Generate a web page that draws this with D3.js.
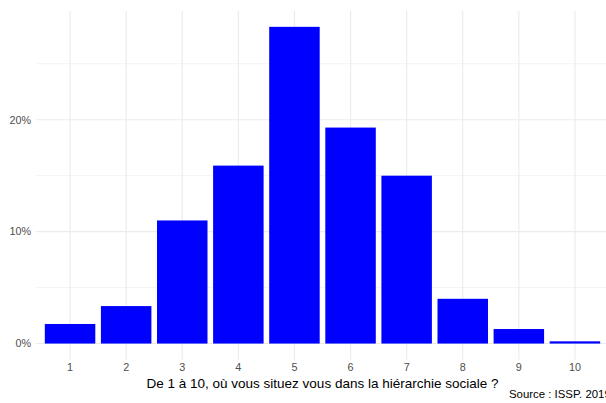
<!DOCTYPE html>
<html>
<head>
<meta charset="utf-8">
<script src="https://cdn.jsdelivr.net/npm/d3@7"></script>
<style>
  body { margin: 0; background: #fff; overflow: hidden; }
  text { font-family: "Liberation Sans", Arial, Helvetica, sans-serif; }
</style>
</head>
<body>
<div id="chart"></div>
<script>
// data
var categories = ["1", "2", "3", "4", "5", "6", "7", "8", "9", "10"];
var shares = [1.75, 3.35, 11.0, 15.9, 28.3, 19.3, 15.0, 4.0, 1.3, 0.2];
var yTicks = [0, 10, 20];
var yMinor = [5, 15, 25];
var xTitle = "De 1 à 10, où vous situez vous dans la hiérarchie sociale ?";
var caption = "Source : ISSP. 2019";

var width = 606, height = 403;
var panel = { left: 36.4, right: 608.6, top: 11, bottom: 359.4 };

var svg = d3.select("#chart").append("svg")
  .attr("width", width)
  .attr("height", height);

var x = d3.scaleBand()
  .domain(categories)
  .range([panel.left, panel.right])
  .paddingInner(0.1)
  .paddingOuter(0.15);

var ymax = d3.max(shares);
var y = d3.scaleLinear()
  .domain([-0.05 * ymax, ymax * 1.05])
  .range([panel.bottom, panel.top]);

var grid = svg.append("g");

// minor horizontal lines
grid.selectAll(".minor").data(yMinor).enter().append("line")
  .attr("x1", panel.left).attr("x2", panel.right)
  .attr("y1", d => y(d)).attr("y2", d => y(d))
  .attr("stroke", "#ebebeb").attr("stroke-width", 0.6);

// major horizontal lines
grid.selectAll(".major").data(yTicks).enter().append("line")
  .attr("x1", panel.left).attr("x2", panel.right)
  .attr("y1", d => y(d)).attr("y2", d => y(d))
  .attr("stroke", "#ebebeb").attr("stroke-width", 1.1);

// vertical lines
grid.selectAll(".vert").data(categories).enter().append("line")
  .attr("x1", d => x(d) + x.bandwidth() / 2).attr("x2", d => x(d) + x.bandwidth() / 2)
  .attr("y1", panel.top).attr("y2", panel.bottom)
  .attr("stroke", "#ebebeb").attr("stroke-width", 1.1);

// bars
svg.selectAll(".bar").data(shares).enter().append("rect")
  .attr("x", (d, i) => x(categories[i]))
  .attr("width", x.bandwidth())
  .attr("y", d => y(d))
  .attr("height", d => y(0) - y(d))
  .attr("fill", "#0000ff");

// y axis labels
svg.append("g").selectAll("text").data(yTicks).enter().append("text")
  .attr("x", 31)
  .attr("y", d => y(d))
  .attr("dy", "0.35em")
  .attr("text-anchor", "end")
  .attr("font-size", 10.8)
  .attr("fill", "#4d4d4d")
  .text(d => d + "%");

// x axis labels
svg.append("g").selectAll("text").data(categories).enter().append("text")
  .attr("x", d => x(d) + x.bandwidth() / 2)
  .attr("y", 371)
  .attr("text-anchor", "middle")
  .attr("font-size", 10.8)
  .attr("fill", "#4d4d4d")
  .text(d => d);

// axis title
svg.append("text")
  .attr("x", (panel.left + panel.right) / 2)
  .attr("y", 388)
  .attr("text-anchor", "middle")
  .attr("font-size", 13.5)
  .attr("fill", "#000")
  .text(xTitle);

// caption
svg.append("text")
  .attr("x", 509)
  .attr("y", 397.5)
  .attr("font-size", 11.4)
  .attr("fill", "#000")
  .text(caption);
</script>
</body>
</html>
